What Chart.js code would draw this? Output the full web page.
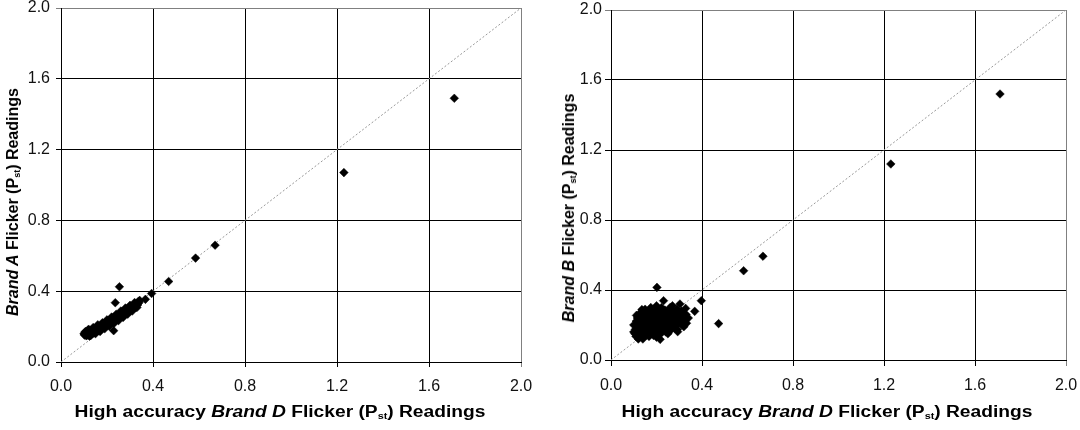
<!DOCTYPE html>
<html>
<head>
<meta charset="utf-8">
<script src="https://cdn.jsdelivr.net/npm/chart.js@4/dist/chart.umd.min.js"></script>
<style>
  html, body { margin:0; padding:0; background:#fff; }
  body { width:1080px; height:430px; position:relative; overflow:hidden; font-family:"Liberation Sans", Arial, sans-serif; }
  .box { position:absolute; top:0; width:540px; height:430px; }
  .ttl { position:absolute; white-space:nowrap; font-weight:bold; font-size:16px; color:#000; line-height:1; }
  .ttl .s { font-size:9px; position:relative; top:2px; }
  .xt { transform: translate(-50%,-50%) scaleX(1.2); }
  .yt { transform: translate(-50%,-50%) rotate(-90deg); }
</style>
</head>
<body>
<div class="box" style="left:0"><canvas id="c1"></canvas></div>
<div class="box" style="left:540px"><canvas id="c2"></canvas></div>
<div class="ttl xt" style="left:280px; top:412px">High accuracy <i>Brand D</i> Flicker (P<span class="s">st</span>) Readings</div>
<div class="ttl xt" style="left:827px; top:412px">High accuracy <i>Brand D</i> Flicker (P<span class="s">st</span>) Readings</div>
<div class="ttl yt" style="left:13px; top:202px"><i>Brand A</i> Flicker (P<span class="s">st</span>) Readings</div>
<div class="ttl yt" style="left:569px; top:208px"><i>Brand B</i> Flicker (P<span class="s">st</span>) Readings</div>
<script>
// Axis ticks
const tickValues = [0.0, 0.4, 0.8, 1.2, 1.6, 2.0];
const referenceLine = [0, 2];

// Chart 1: Brand A vs Brand D
const brandA_D = [0.105,0.105,0.108,0.110,0.110,0.113,0.115,0.117,0.118,0.120,0.122,0.124,0.125,0.127,0.129,0.131,0.132,0.134,0.136,0.138,0.140,0.142,0.144,0.146,0.148,0.150,
  0.152,0.154,0.156,0.158,0.160,0.162,0.164,0.166,0.168,0.170,0.172,0.174,0.176,0.178,0.180,0.182,0.184,0.186,0.188,0.190,0.192,0.194,0.196,0.198,0.200,0.202,0.204,0.206,0.208,0.210,0.212,0.214,0.216,0.218,0.220,0.222,0.224,0.226,0.228,0.230,0.232,0.234,0.236,0.238,0.240,0.242,0.244,0.246,0.248,0.250,0.252,0.254,0.256,0.258,0.260,0.262,0.264,0.266,0.268,0.270,0.272,0.274,0.276,0.278,0.280,0.282,0.284,0.286,0.288,0.290,0.292,0.294,0.296,0.298,0.300,0.303,0.306,0.309,0.312,0.315,0.318,0.321,0.324,0.327,0.330,0.333,0.336,0.339,0.342,
  0.120,0.140,0.160,0.180,0.200,0.220,0.240,0.260,0.280,0.300,0.320,
  0.110,0.130,0.150,0.170,0.190,0.210,0.230,0.250,0.270,0.290,0.310,0.330,
  0.100,0.102,0.106,0.116,0.124,
  0.229,0.236,0.254,0.367,0.394,0.468,0.585,0.670,1.230,1.710];
const brandA = [0.155,0.165,0.160,0.152,0.170,0.158,0.165,0.152,0.172,0.160,0.168,0.155,0.176,0.163,0.171,0.158,0.180,0.167,0.175,0.162,0.184,0.172,0.180,0.166,0.188,0.177,
  0.185,0.172,0.194,0.182,0.190,0.178,0.200,0.188,0.196,0.184,0.206,0.194,0.202,0.190,0.212,0.200,0.208,0.196,0.218,0.206,0.214,0.202,0.224,0.212,0.220,0.210,0.232,0.220,0.228,0.216,0.238,0.226,0.234,0.222,0.244,0.232,0.240,0.228,0.250,0.238,0.246,0.234,0.256,0.244,0.252,0.240,0.262,0.250,0.258,0.246,0.268,0.256,0.264,0.253,0.275,0.263,0.271,0.260,0.282,0.270,0.278,0.267,0.289,0.277,0.285,0.274,0.296,0.284,0.292,0.281,0.303,0.291,0.299,0.288,0.310,0.298,0.307,0.296,0.318,0.307,0.316,0.306,0.327,0.318,0.330,0.322,0.342,0.335,0.348,
  0.185,0.195,0.210,0.222,0.238,0.254,0.270,0.288,0.305,0.320,0.336,
  0.148,0.150,0.160,0.172,0.188,0.202,0.218,0.234,0.252,0.270,0.288,0.308,
  0.160,0.152,0.172,0.178,0.146,
  0.177,0.335,0.425,0.354,0.387,0.455,0.587,0.660,1.070,1.490];

// Chart 2: Brand B vs Brand D
const brandB_D = [0.105,0.107,0.108,0.110,0.111,0.113,0.114,0.116,0.118,0.119,0.121,0.123,0.124,0.126,0.128,0.129,0.131,0.133,0.134,0.136,0.138,0.140,0.141,0.143,0.145,0.146,0.148,0.150,0.152,0.153,0.155,0.157,0.158,0.160,0.162,0.163,0.165,0.167,0.168,0.170,0.172,0.174,0.175,0.177,0.179,0.180,0.182,0.184,0.186,0.187,0.189,0.191,0.193,0.195,0.196,0.198,0.200,0.202,0.203,0.205,0.207,0.208,0.210,0.212,0.214,0.215,0.217,0.219,0.220,0.222,0.224,0.225,0.227,0.229,0.230,0.232,0.234,0.236,0.237,0.239,0.241,0.243,0.245,0.246,0.248,0.250,0.252,0.254,0.256,0.258,0.260,0.262,0.264,0.266,0.268,0.270,0.272,0.274,0.276,0.278,0.280,0.282,0.284,0.286,0.288,0.290,0.292,0.294,0.296,0.298,0.300,0.303,0.305,0.308,0.310,0.313,0.316,0.320,
  0.100,0.100,0.112,0.125,0.150,0.175,0.200,0.260,0.290,0.310,0.330,0.340,0.320,0.250,0.200,0.140,0.120,0.270,
  0.202,0.216,0.231,0.293,0.328,0.332,0.368,0.397,0.473,0.583,0.668,1.230,1.710];
const brandB = [0.150,0.175,0.200,0.135,0.222,0.162,0.188,0.240,0.145,0.210,0.170,0.128,0.232,0.195,0.155,0.255,0.180,0.140,0.218,0.288,0.165,0.245,0.198,0.132,0.228,0.150,0.262,0.185,0.210,0.140,0.240,0.170,0.275,0.195,0.225,0.155,0.266,0.135,0.205,0.250,0.178,0.230,0.148,0.280,0.215,0.190,0.160,0.258,0.238,0.140,0.200,0.272,0.170,0.225,0.250,0.185,0.152,0.290,0.210,0.240,0.165,0.265,0.195,0.228,0.145,0.280,0.178,0.252,0.210,0.300,0.160,0.238,0.190,0.268,0.220,0.175,0.250,0.205,0.285,0.232,0.160,0.262,0.195,0.222,0.178,0.275,0.245,0.210,0.190,0.260,0.230,0.170,0.285,0.215,0.248,0.195,0.268,0.232,0.205,0.255,0.182,0.220,0.270,0.240,0.200,0.255,0.175,0.228,0.262,0.210,0.245,0.320,0.225,0.258,0.205,0.240,0.270,0.222,
  0.160,0.200,0.255,0.265,0.290,0.300,0.310,0.300,0.290,0.280,0.260,0.240,0.190,0.150,0.130,0.120,0.120,0.310,
  0.415,0.118,0.339,0.162,0.295,0.210,0.278,0.339,0.208,0.510,0.593,1.120,1.520];

function makeChart(id, xs, ys, geo) {
  const pts = xs.map((x, i) => ({ x: x, y: ys[i] }));
  const gridColor = (c) => (c.tick && Math.abs(c.tick.value - 2) < 1e-9) ? '#808080' : '#000';
  const tickFont = { family: '"Liberation Sans", Arial, sans-serif', size: 16 };
  return new Chart(document.getElementById(id), {
    type: 'scatter',
    data: {
      datasets: [
        { type: 'line', data: referenceLine.map(v => ({ x: v, y: v })), borderColor: '#999', borderWidth: 1, borderDash: [2, 2], pointRadius: 0, fill: false, order: 2 },
        { data: pts, pointStyle: 'rectRot', pointRadius: 4.3, pointHoverRadius: 4.3, backgroundColor: '#000', borderColor: '#000', pointBorderWidth: 0.5, order: 1 }
      ]
    },
    options: {
      responsive: true, maintainAspectRatio: false, animation: false,
      events: [],
      layout: { padding: { left: 0, top: geo.top, right: geo.right, bottom: 0 } },
      plugins: { legend: { display: false }, tooltip: { enabled: false } },
      scales: {
        x: {
          type: 'linear', min: 0, max: 2,
          afterBuildTicks: (s) => { s.ticks = tickValues.map(v => ({ value: v })); },
          afterFit: (s) => { s.height = geo.xh; s.paddingLeft = 0; s.paddingRight = 0; },
          ticks: { callback: (v) => Number(v).toFixed(1), color: '#111', padding: 10, maxRotation: 0, font: tickFont },
          grid: { color: gridColor, lineWidth: 1, tickLength: geo.tl },
          border: { color: '#000', width: 1 }
        },
        y: {
          type: 'linear', min: 0, max: 2,
          afterBuildTicks: (s) => { s.ticks = tickValues.map(v => ({ value: v })); },
          afterFit: (s) => { s.width = geo.yw; s.paddingTop = 0; s.paddingBottom = 0; },
          ticks: { callback: (v) => Number(v).toFixed(1), color: '#111', padding: geo.tp, font: tickFont },
          grid: { color: gridColor, lineWidth: 1, tickLength: geo.tl },
          border: { color: '#000', width: 1 }
        }
      }
    }
  });
}

makeChart('c1', brandA_D, brandA, { top: 8, right: 19, xh: 68, yw: 61, tl: 5, tp: 6 });
makeChart('c2', brandB_D, brandB, { top: 10, right: 14, xh: 70, yw: 71, tl: 6, tp: 3 });
</script>
</body>
</html>
